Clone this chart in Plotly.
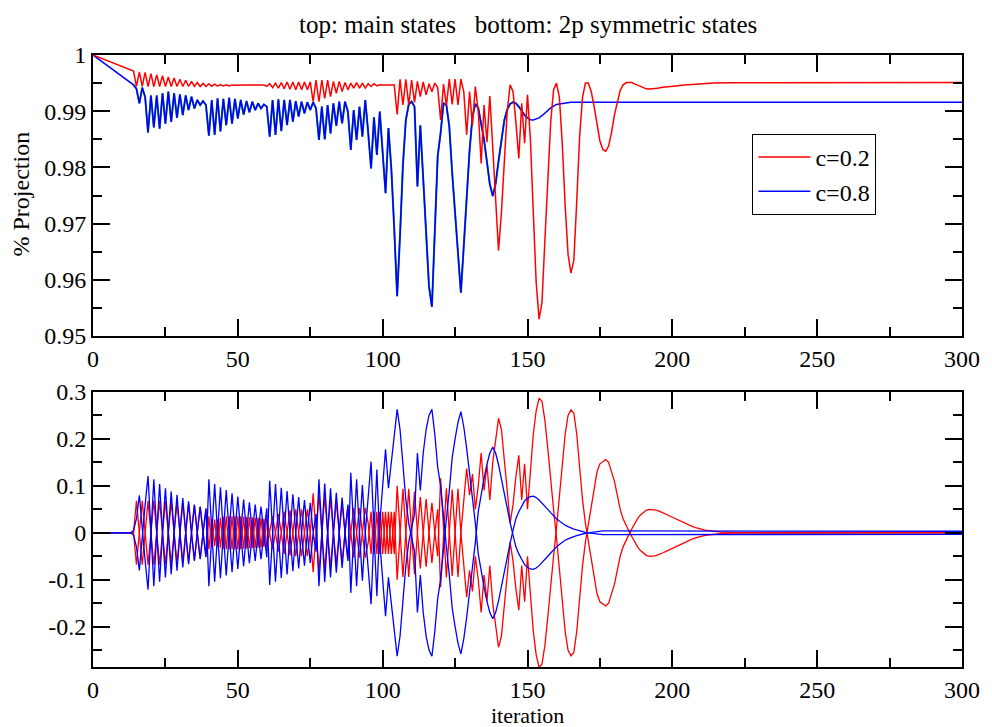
import plotly.graph_objects as go

# iteration axis (per-iteration up to 220, then sparse flat tail)
iteration = list(range(0, 221)) + [230, 240, 250, 260, 270, 280, 290, 300]

# top panel: main-state projection, c=0.2
main_c02 = [
    1.0, 0.9998, 0.9996, 0.9994, 0.9992, 0.9990, 0.9988, 0.9986, 0.9984, 0.9982,
    0.9980, 0.9978, 0.9976, 0.9974, 0.99715, 0.9944, 0.9970, 0.9944, 0.9969, 0.9944,
    0.9967, 0.9944, 0.9965, 0.9944, 0.9963, 0.9944, 0.9961, 0.9944, 0.9959, 0.9944,
    0.9957, 0.9944, 0.9955, 0.9944, 0.9953, 0.9944, 0.9951, 0.9944, 0.99495, 0.9944,
    0.9949, 0.99445, 0.9948, 0.99445, 0.99475, 0.9945, 0.9947, 0.9945, 0.99468, 0.99462,
    0.99466, 0.99464, 0.99466, 0.99464, 0.99466, 0.99465, 0.99466, 0.99464, 0.99465, 0.99465,
    0.9944, 0.9949, 0.9942, 0.9950, 0.9941, 0.9951, 0.9940, 0.9952, 0.9939, 0.9952,
    0.9938, 0.9952, 0.9938, 0.9952, 0.9938, 0.9952, 0.9917, 0.99555, 0.9917, 0.99555,
    0.9923, 0.99555, 0.9926, 0.9953, 0.9932, 0.9953, 0.9935, 0.9951, 0.9938, 0.9950,
    0.9941, 0.9951, 0.9941, 0.9950, 0.9941, 0.9949, 0.9944, 0.9949, 0.9945, 0.9947,
    0.99465, 0.99463, 0.99465, 0.99463, 0.99465, 0.98944, 0.99567, 0.9911, 0.99567, 0.9911,
    0.99555, 0.99158, 0.9953, 0.99259, 0.9952, 0.9929, 0.9949, 0.99348, 0.9950, 0.9942,
    0.98843, 0.9948, 0.9910, 0.9957, 0.9912, 0.9957, 0.9911, 0.9957, 0.9935, 0.9858,
    0.9935, 0.9875, 0.9944, 0.9900, 0.9807, 0.9911, 0.9845, 0.9927, 0.9830, 0.9750,
    0.9652, 0.9720, 0.9820, 0.9900, 0.9947, 0.9935, 0.9880, 0.9816, 0.9914, 0.9843,
    0.9929, 0.9850, 0.9720, 0.9595, 0.9530, 0.9560, 0.9670, 0.9780, 0.9880, 0.9938,
    0.9950, 0.9925, 0.9842, 0.9733, 0.9645, 0.9612, 0.9635, 0.9740, 0.9855, 0.9925,
    0.9950, 0.9950, 0.9935, 0.9908, 0.9875, 0.9847, 0.9832, 0.9829, 0.9838, 0.9862,
    0.9893, 0.9918, 0.9937, 0.9947, 0.99505, 0.99512, 0.9951, 0.99485, 0.9946, 0.99435,
    0.9941, 0.99398, 0.99393, 0.99395, 0.99402, 0.9941, 0.9942, 0.99428, 0.99435, 0.9944,
    0.99445, 0.9945, 0.99455, 0.9946, 0.99465, 0.9947, 0.99475, 0.9948, 0.99485, 0.9949,
    0.99492, 0.99494, 0.99496, 0.99498, 0.995, 0.99502, 0.99503, 0.99504, 0.99505, 0.99506, 0.99507,
    0.99508, 0.99509, 0.9951, 0.9951, 0.9951, 0.9951, 0.9951, 0.9951,
]

# top panel: main-state projection, c=0.8
main_c08 = [
    1.0, 0.99963, 0.99926, 0.99889, 0.99852, 0.99815, 0.99778, 0.99741, 0.99704, 0.99667,
    0.9963, 0.99592, 0.99554, 0.99516, 0.9947, 0.9940, 0.9914, 0.9942, 0.9925, 0.9862,
    0.9928, 0.9871, 0.9928, 0.9869, 0.9932, 0.9878, 0.9935, 0.9881, 0.9932, 0.9888,
    0.9930, 0.9893, 0.9928, 0.9902, 0.9926, 0.9905, 0.9920, 0.9911, 0.9918, 0.9911,
    0.98565, 0.9920, 0.9858, 0.9923, 0.9864, 0.9922, 0.9875, 0.9924, 0.9878, 0.9922,
    0.9887, 0.9920, 0.9894, 0.9918, 0.9898, 0.9917, 0.9902, 0.9914, 0.9905, 0.9912,
    0.9908, 0.98547, 0.9920, 0.98576, 0.9921, 0.98647, 0.9920, 0.98754, 0.9920, 0.98814,
    0.9918, 0.98903, 0.9917, 0.98962, 0.9916, 0.99021, 0.9916, 0.9905, 0.98488, 0.99081,
    0.9850, 0.9911, 0.98606, 0.9914, 0.98737, 0.9917, 0.98784, 0.9917, 0.98992, 0.9831,
    0.99021, 0.98488, 0.9908, 0.98547, 0.9920, 0.9865, 0.9798, 0.98891, 0.98221, 0.98992,
    0.9826, 0.9754, 0.9870, 0.9797, 0.9690, 0.9571, 0.9680, 0.9805, 0.98843, 0.9912,
    0.9917, 0.9908, 0.9766, 0.9875, 0.9780, 0.9680, 0.9588, 0.9552, 0.9700, 0.9820,
    0.9861, 0.9914, 0.9911, 0.9873, 0.9790, 0.9720, 0.9640, 0.9577, 0.9660, 0.9750,
    0.9830, 0.9890, 0.9913, 0.9906, 0.9880, 0.9849, 0.9810, 0.9770, 0.9749, 0.9771,
    0.9811, 0.9852, 0.9884, 0.9903, 0.9913, 0.9916, 0.9914, 0.9908, 0.9900, 0.9893,
    0.9888, 0.98848, 0.98843, 0.98855, 0.9888, 0.9892, 0.9897, 0.9902, 0.9906, 0.9909,
    0.9912, 0.9913, 0.9914, 0.99152, 0.99158, 0.9916, 0.9916, 0.9916, 0.9916, 0.9916,
    0.9916, 0.9916, 0.9916, 0.9916, 0.9916, 0.9916, 0.9916, 0.9916, 0.9916, 0.9916,
    0.9916, 0.9916, 0.9916, 0.9916, 0.9916, 0.9916, 0.9916, 0.9916, 0.9916, 0.9916,
    0.9916, 0.9916, 0.9916, 0.9916, 0.9916, 0.9916, 0.9916, 0.9916, 0.9916, 0.9916,
    0.9916, 0.9916, 0.9916, 0.9916, 0.9916, 0.9916, 0.9916, 0.9916, 0.9916, 0.9916,
    0.9916, 0.9916, 0.9916, 0.9916, 0.9916, 0.9916, 0.9916, 0.9916, 0.9916, 0.9916, 0.9916,
    0.9916, 0.9916, 0.9916, 0.9916, 0.9916, 0.9916, 0.9916, 0.9916,
]

# bottom panel: 2p symmetric-state amplitude (one branch), c=0.2
sym_c02 = [
    0.0, 0.0, 0.0, 0.0, 0.0, 0.0, 0.0, 0.0, 0.0, 0.0,
    0.0, 0.0, 0.0, 0.0, 0.0, 0.068, 0.0, -0.068, 0.0, 0.068,
    0.0, -0.068, 0.0, 0.068, 0.0, -0.067, 0.0, 0.066, 0.0, -0.065,
    0.0, 0.063, 0.0, -0.061, 0.0, 0.058, 0.0, -0.055, 0.0, 0.050,
    -0.035, 0.030, -0.028, 0.030, -0.032, 0.034, -0.035, 0.035, -0.035, 0.035,
    -0.035, 0.035, -0.034, 0.034, -0.033, 0.033, -0.032, 0.032, -0.031, 0.030,
    -0.030, 0.0, 0.035, 0.0, -0.040, 0.0, 0.045, 0.0, -0.048, 0.0,
    0.050, 0.0, -0.050, 0.0, 0.050, 0.0, -0.084, 0.0, 0.084, 0.0,
    -0.078, 0.0, 0.073, 0.0, -0.066, 0.0, 0.062, 0.0, -0.056, 0.0,
    0.053, 0.0, -0.053, 0.0, 0.053, 0.020, -0.045, 0.045, -0.045, 0.045,
    -0.045, 0.045, -0.045, 0.045, -0.045, 0.100, 0.0, -0.094, 0.0, 0.094,
    0.0, -0.088, 0.0, 0.076, 0.0, -0.072, 0.0, 0.064, 0.0, -0.050,
    0.116, 0.020, -0.095, 0.0, 0.092, 0.0, -0.094, 0.0, 0.070, 0.137,
    0.080, 0.125, 0.050, 0.100, 0.170, 0.090, 0.145, 0.070, 0.150, 0.200,
    0.244, 0.220, 0.160, 0.090, 0.020, 0.060, 0.120, 0.165, 0.070, 0.147,
    0.050, 0.140, 0.210, 0.260, 0.287, 0.280, 0.240, 0.180, 0.110, 0.050,
    -0.010, -0.080, -0.150, -0.210, -0.250, -0.262, -0.255, -0.210, -0.140, -0.070,
    -0.020, 0.020, 0.060, 0.100, 0.130, 0.147, 0.152, 0.156, 0.150, 0.132,
    0.110, 0.080, 0.050, 0.030, 0.015, 0.004, -0.008, -0.020, -0.030, -0.038,
    -0.044, -0.048, -0.050, -0.050, -0.049, -0.047, -0.045, -0.042, -0.039, -0.036,
    -0.033, -0.030, -0.027, -0.024, -0.021, -0.018, -0.015, -0.013, -0.011, -0.009,
    -0.0075, -0.006, -0.005, -0.004, -0.003, -0.0025, -0.002, -0.0015, -0.0012, -0.001, -0.0008,
    -0.0005, -0.0003, -0.0002, -0.0001, 0.0, 0.0, 0.0, 0.0,
]

# bottom panel: 2p symmetric-state amplitude (one branch), c=0.8
sym_c08 = [
    0.0, 0.0, 0.0, 0.0, 0.0, 0.0, 0.0, 0.0, 0.0, 0.0,
    0.0, 0.0, 0.0, 0.0, 0.005, 0.03, 0.08, 0.0, -0.06, -0.121,
    0.0, 0.114, 0.0, -0.104, 0.0, 0.095, 0.0, -0.088, 0.0, 0.081,
    0.0, -0.074, 0.0, 0.067, 0.0, -0.060, 0.0, 0.056, 0.0, -0.052,
    0.114, 0.0, -0.104, 0.0, 0.097, 0.0, -0.091, 0.0, 0.084, 0.0,
    -0.077, 0.0, 0.071, 0.0, -0.065, 0.0, 0.060, 0.0, -0.056, 0.0,
    0.052, -0.111, 0.0, 0.104, 0.0, -0.096, 0.0, 0.089, 0.0, -0.082,
    0.0, 0.076, 0.0, -0.070, 0.0, 0.064, 0.0, 0.040, -0.114, 0.0,
    0.105, 0.0, -0.095, 0.0, 0.085, 0.0, -0.075, 0.0, 0.060, -0.128,
    0.0, 0.114, 0.0, -0.102, 0.0, 0.070, 0.152, 0.0, -0.135, 0.020,
    0.100, 0.178, 0.095, 0.150, 0.210, 0.263, 0.220, 0.150, 0.070, 0.020,
    -0.010, -0.040, -0.170, -0.090, -0.170, -0.220, -0.250, -0.263, -0.210, -0.140,
    -0.100, -0.030, 0.030, 0.090, 0.160, 0.200, 0.235, 0.258, 0.226, 0.180,
    0.130, 0.070, 0.020, -0.045, -0.085, -0.116, -0.146, -0.170, -0.183, -0.170,
    -0.145, -0.113, -0.080, -0.050, -0.022, 0.005, 0.030, 0.045, 0.058, 0.068,
    0.074, 0.077, 0.078, 0.075, 0.070, 0.064, 0.057, 0.050, 0.043, 0.036,
    0.030, 0.025, 0.020, 0.016, 0.013, 0.010, 0.008, 0.006, 0.004, 0.002,
    0.001, 0.0, -0.001, -0.002, -0.003, -0.0035, -0.004, -0.004, -0.004, -0.004,
    -0.004, -0.004, -0.004, -0.004, -0.004, -0.004, -0.004, -0.004, -0.004, -0.004,
    -0.004, -0.004, -0.004, -0.004, -0.004, -0.004, -0.004, -0.004, -0.004, -0.004,
    -0.004, -0.004, -0.004, -0.004, -0.004, -0.004, -0.004, -0.004, -0.004, -0.004,
    -0.004, -0.004, -0.004, -0.004, -0.004, -0.004, -0.004, -0.004, -0.004, -0.004, -0.004,
    -0.004, -0.004, -0.004, -0.0038, -0.0036, -0.0035, -0.0034, -0.0033,
]

for name, arr in [("main_c02", main_c02), ("main_c08", main_c08),
                  ("sym_c02", sym_c02), ("sym_c08", sym_c08)]:
    assert len(arr) == len(iteration), (name, len(arr), len(iteration))

RED = "#ff0000"
BLUE = "#0000ff"
GREEN = "#1a8a6a"
FONT = "Liberation Serif"

fig = go.Figure()

# ---- top panel ----
fig.add_trace(go.Scatter(x=iteration[14:151], y=main_c08[14:151], mode="lines",
                         line=dict(color=GREEN, width=2.0), showlegend=False,
                         hoverinfo="skip", xaxis="x", yaxis="y"))
fig.add_trace(go.Scatter(x=iteration, y=main_c08, mode="lines", name="c=0.8",
                         line=dict(color=BLUE, width=1.5), legendrank=2,
                         xaxis="x", yaxis="y"))
fig.add_trace(go.Scatter(x=iteration, y=main_c02, mode="lines", name="c=0.2",
                         line=dict(color=RED, width=1.5), legendrank=1,
                         xaxis="x", yaxis="y"))

# ---- bottom panel ----
fig.add_trace(go.Scatter(x=iteration, y=sym_c02, mode="lines", showlegend=False,
                         line=dict(color=RED, width=1.3), xaxis="x2", yaxis="y2"))
fig.add_trace(go.Scatter(x=iteration, y=[-v for v in sym_c02], mode="lines", showlegend=False,
                         line=dict(color=RED, width=1.3), xaxis="x2", yaxis="y2"))
fig.add_trace(go.Scatter(x=iteration, y=sym_c08, mode="lines", showlegend=False,
                         line=dict(color=BLUE, width=1.3), xaxis="x2", yaxis="y2"))
fig.add_trace(go.Scatter(x=iteration, y=[-v for v in sym_c08], mode="lines", showlegend=False,
                         line=dict(color=BLUE, width=1.3), xaxis="x2", yaxis="y2"))

axis_common = dict(
    showline=True, linecolor="black", linewidth=2, mirror="allticks",
    ticks="inside", ticklen=17, tickwidth=1.5, tickcolor="black",
    showgrid=False, zeroline=False,
    tickfont=dict(family=FONT, size=24, color="black"),
)

# plot area spans pixel rows 55..667 (612 px)
BOTTOM = 667.0
PH = BOTTOM - 55.0
def py(px):
    return (BOTTOM - px) / PH

top_frac = 1 - 281 / PH
bot_frac = (BOTTOM - 392) / PH

fig.update_layout(
    width=992, height=727,
    margin=dict(l=93, r=24, t=55, b=int(727 - BOTTOM)),
    paper_bgcolor="white", plot_bgcolor="white",
    font=dict(family=FONT, size=24, color="black"),
    xaxis=dict(domain=[0, 1], anchor="y", range=[0, 300], dtick=50, tick0=0,
               minor=dict(dtick=25, ticklen=9, tickwidth=1.5, ticks="inside", tickcolor="black"),
               **axis_common),
    yaxis=dict(domain=[top_frac, 1], anchor="x", range=[0.95, 1.0], dtick=0.01, tick0=0.95,
               minor=dict(dtick=0.005, ticklen=9, tickwidth=1.5, ticks="inside", tickcolor="black"),
               **axis_common),
    xaxis2=dict(domain=[0, 1], anchor="y2", range=[0, 300], dtick=50, tick0=0,
                minor=dict(dtick=25, ticklen=9, tickwidth=1.5, ticks="inside", tickcolor="black"),
                **axis_common),
    yaxis2=dict(domain=[0, bot_frac], anchor="x2", range=[-0.286, 0.3],
                tickmode="array",
                tickvals=[-0.2, -0.1, 0, 0.1, 0.2, 0.3],
                ticktext=["-0.2", "-0.1", "0", "0.1", "0.2", "0.3"],
                minor=dict(tickmode="array", tickvals=[-0.25, -0.15, -0.05, 0.05, 0.15, 0.25],
                           ticklen=9, tickwidth=1.5, ticks="inside", tickcolor="black"),
                **axis_common),
    legend=dict(x=(757 - 93) / 875, y=py(134), xanchor="left", yanchor="top",
                bordercolor="black", borderwidth=1, bgcolor="white",
                font=dict(family=FONT, size=24, color="black"),
                itemwidth=52, tracegroupgap=0),
    showlegend=True,
    annotations=[
        dict(text="top: main states\u00a0\u00a0\u00a0bottom: 2p symmetric states",
             x=0.5, y=py(25), xref="paper", yref="paper",
             xanchor="center", yanchor="middle", showarrow=False,
             font=dict(family=FONT, size=25, color="black")),
        dict(text="% Projection", x=(20 - 93) / 875, y=py(194),
             xref="paper", yref="paper", xanchor="center", yanchor="middle",
             textangle=-90, showarrow=False,
             font=dict(family=FONT, size=24, color="black")),
        dict(text="iteration", x=0.5, y=py(715), xref="paper", yref="paper",
             xanchor="center", yanchor="middle", showarrow=False,
             font=dict(family=FONT, size=22, color="black")),
    ],
)

fig.write_html("out.html")
